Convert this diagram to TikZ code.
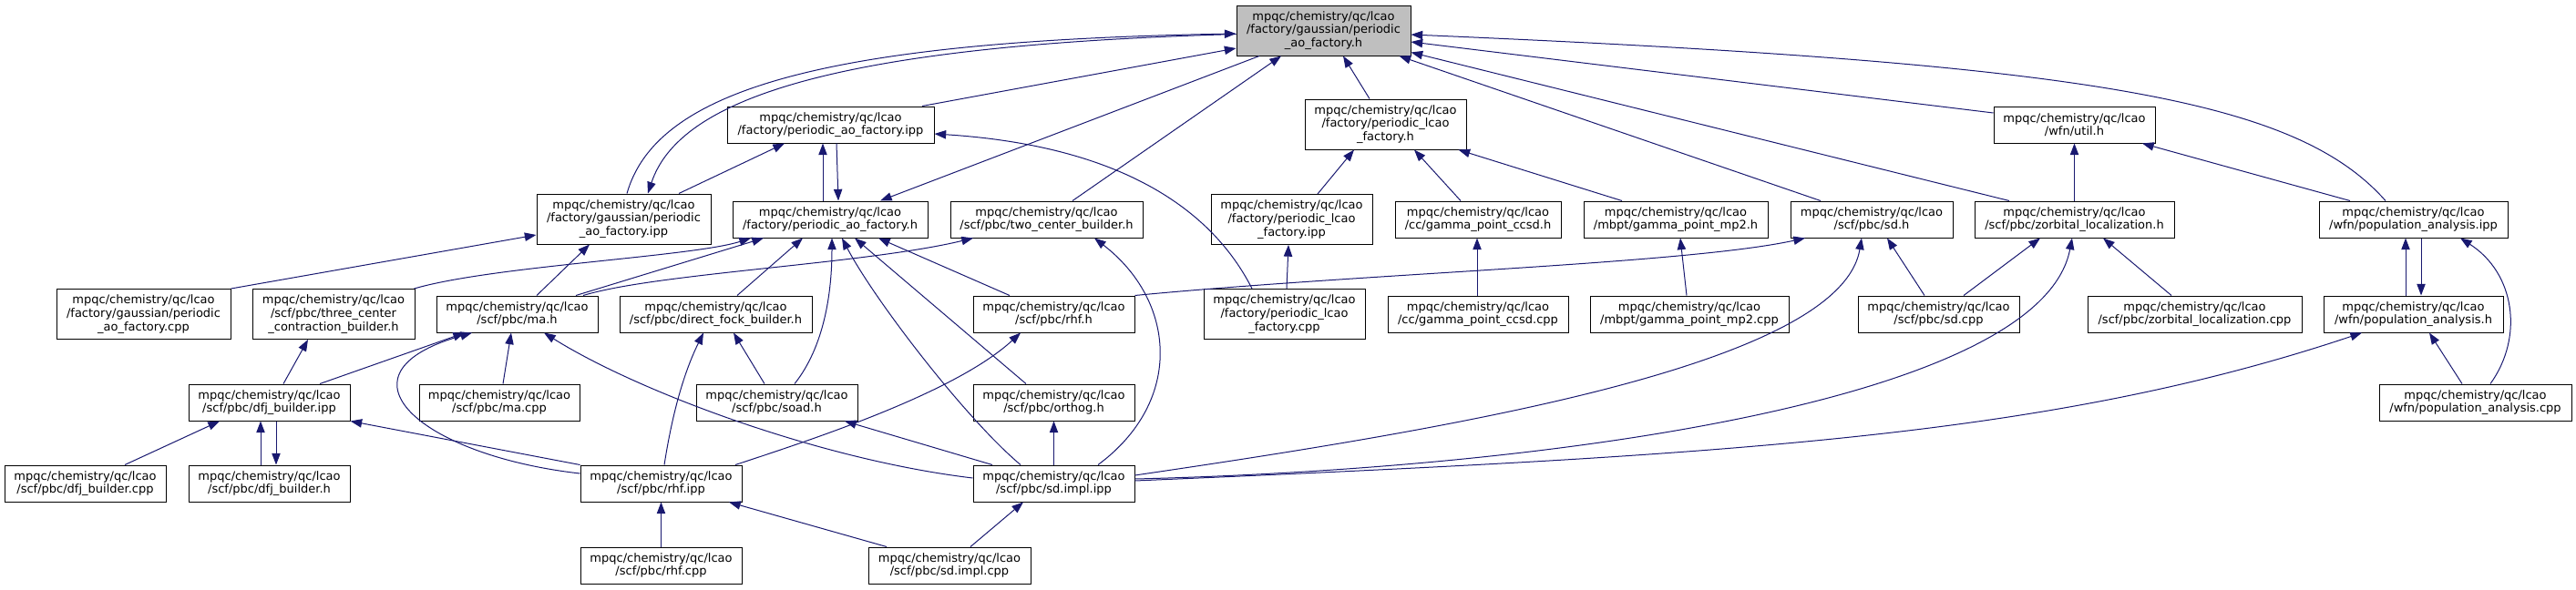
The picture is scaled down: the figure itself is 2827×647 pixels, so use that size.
\documentclass[tikz,border=0pt]{standalone}
\usepackage{fontspec}
\setmainfont{DejaVu Sans}
\usetikzlibrary{arrows.meta,calc}
\definecolor{edgeblue}{HTML}{191970}
\definecolor{rootgray}{HTML}{BFBFBF}
\tikzset{
  box/.style={draw=black, line width=0.75pt, fill=white, inner sep=0pt, align=center,
    font=\fontsize{9.75pt}{11pt}\selectfont},
  nd/.style n args={2}{minimum width=#1*0.75pt, minimum height=#2*0.75pt},
  edge/.style={draw=edgeblue, line width=0.75pt, -{Triangle[length=9.5pt,width=7pt]}}
}
\begin{document}
\begin{tikzpicture}[x=0.75pt,y=-0.75pt]
\useasboundingbox (0,0) rectangle (2827,647);
% rank 1
\node[box,nd={191}{55},fill=rootgray] (R) at (1452.5,33.5) {mpqc/chemistry/qc/lcao\\/factory/gaussian/periodic\\\_ao\_factory.h};
% rank 2
\node[box,nd={227}{40}] (PAI) at (911.5,137) {mpqc/chemistry/qc/lcao\\/factory/periodic\_ao\_factory.ipp};
\node[box,nd={177}{55}] (LH) at (1520.5,136.5) {mpqc/chemistry/qc/lcao\\/factory/periodic\_lcao\\\_factory.h};
\node[box,nd={177}{40}] (UH) at (2276.5,137) {mpqc/chemistry/qc/lcao\\/wfn/util.h};
% rank 3
\node[box,nd={191}{55}] (GI) at (684.5,240.5) {mpqc/chemistry/qc/lcao\\/factory/gaussian/periodic\\\_ao\_factory.ipp};
\node[box,nd={214}{40}] (PAF) at (911,241) {mpqc/chemistry/qc/lcao\\/factory/periodic\_ao\_factory.h};
\node[box,nd={211}{40}] (TCB) at (1148.5,241) {mpqc/chemistry/qc/lcao\\/scf/pbc/two\_center\_builder.h};
\node[box,nd={177}{55}] (LI) at (1417.5,241) {mpqc/chemistry/qc/lcao\\/factory/periodic\_lcao\\\_factory.ipp};
\node[box,nd={182}{40}] (CCSDh) at (1622,241) {mpqc/chemistry/qc/lcao\\/cc/gamma\_point\_ccsd.h};
\node[box,nd={202}{40}] (MP2h) at (1839,241) {mpqc/chemistry/qc/lcao\\/mbpt/gamma\_point\_mp2.h};
\node[box,nd={178}{40}] (SH) at (2054,241) {mpqc/chemistry/qc/lcao\\/scf/pbc/sd.h};
\node[box,nd={219}{40}] (ZH) at (2276.5,241) {mpqc/chemistry/qc/lcao\\/scf/pbc/zorbital\_localization.h};
\node[box,nd={207}{40}] (PI) at (2648.5,241) {mpqc/chemistry/qc/lcao\\/wfn/population\_analysis.ipp};
% rank 4
\node[box,nd={191}{55}] (GC) at (157.5,345) {mpqc/chemistry/qc/lcao\\/factory/gaussian/periodic\\\_ao\_factory.cpp};
\node[box,nd={178}{55}] (TC) at (366,345) {mpqc/chemistry/qc/lcao\\/scf/pbc/three\_center\\\_contraction\_builder.h};
\node[box,nd={177}{40}] (MA) at (567.5,345) {mpqc/chemistry/qc/lcao\\/scf/pbc/ma.h};
\node[box,nd={211}{40}] (DFB) at (785.5,345) {mpqc/chemistry/qc/lcao\\/scf/pbc/direct\_fock\_builder.h};
\node[box,nd={177}{40}] (RH) at (1156.5,345) {mpqc/chemistry/qc/lcao\\/scf/pbc/rhf.h};
\node[box,nd={177}{55}] (LC) at (1409.5,345) {mpqc/chemistry/qc/lcao\\/factory/periodic\_lcao\\\_factory.cpp};
\node[box,nd={198}{40}] (CCSDcpp) at (1622,345) {mpqc/chemistry/qc/lcao\\/cc/gamma\_point\_ccsd.cpp};
\node[box,nd={218}{40}] (MP2cpp) at (1854,345) {mpqc/chemistry/qc/lcao\\/mbpt/gamma\_point\_mp2.cpp};
\node[box,nd={177}{40}] (SD) at (2127.5,345) {mpqc/chemistry/qc/lcao\\/scf/pbc/sd.cpp};
\node[box,nd={235}{40}] (ZC) at (2408.5,345) {mpqc/chemistry/qc/lcao\\/scf/pbc/zorbital\_localization.cpp};
\node[box,nd={197}{40}] (PH) at (2648.5,345) {mpqc/chemistry/qc/lcao\\/wfn/population\_analysis.h};
% rank 5
\node[box,nd={177}{40}] (DI) at (295.5,442) {mpqc/chemistry/qc/lcao\\/scf/pbc/dfj\_builder.ipp};
\node[box,nd={176}{40}] (MC) at (548,442) {mpqc/chemistry/qc/lcao\\/scf/pbc/ma.cpp};
\node[box,nd={177}{40}] (SO) at (852.5,442) {mpqc/chemistry/qc/lcao\\/scf/pbc/soad.h};
\node[box,nd={177}{40}] (OR) at (1156.5,442) {mpqc/chemistry/qc/lcao\\/scf/pbc/orthog.h};
\node[box,nd={211}{40}] (PC) at (2716.5,442) {mpqc/chemistry/qc/lcao\\/wfn/population\_analysis.cpp};
% rank 6
\node[box,nd={177}{40}] (DC) at (93.5,531) {mpqc/chemistry/qc/lcao\\/scf/pbc/dfj\_builder.cpp};
\node[box,nd={177}{40}] (DH) at (295.5,531) {mpqc/chemistry/qc/lcao\\/scf/pbc/dfj\_builder.h};
\node[box,nd={177}{40}] (RI) at (725.5,531) {mpqc/chemistry/qc/lcao\\/scf/pbc/rhf.ipp};
\node[box,nd={177}{40}] (SI) at (1156.5,531) {mpqc/chemistry/qc/lcao\\/scf/pbc/sd.impl.ipp};
% rank 7
\node[box,nd={177}{40}] (RC) at (725.5,621) {mpqc/chemistry/qc/lcao\\/scf/pbc/rhf.cpp};
\node[box,nd={178}{40}] (SC) at (1042,621) {mpqc/chemistry/qc/lcao\\/scf/pbc/sd.impl.cpp};

% edges into root and upper part
\draw[edge] ($(GI.north)+(3.5,0)$) .. controls (720,100) and (900,45) .. ($(R.west)+(0,3.5)$);
\draw[edge] ($(R.west)+(0,4)$) .. controls (910,50) and (745,110) .. ($(GI.north)+(26.5,0)$);
\draw[edge] ($(PAI.north)+(100.5,0)$) -- ($(R.west)+(0,19.5)$);
\draw[edge] ($(R.south)+(-70.5,0)$) -- ($(PAF.north)+(55,0)$);
\draw[edge] ($(TCB.north)+(28.5,0)$) -- ($(R.south)+(-46.5,0)$);
\draw[edge] ($(LH.north)+(-17.5,0)$) -- ($(R.south)+(21.5,0)$);
\draw[edge] ($(SH.north)+(-56,0)$) -- ($(R.south)+(83,0)$);
\draw[edge] ($(ZH.north)+(-71.5,0)$) -- ($(R.east)+(0,24)$);
\draw[edge] ($(UH.west)+(0,-13)$) -- ($(R.east)+(0,12.5)$);
\draw[edge] ($(PI.north)+(-30.5,0)$) .. controls (2520,110) and (2300,70) .. ($(R.east)+(0,4.5)$);
\draw[edge] ($(GI.north)+(60.5,0)$) -- ($(PAI.south)+(-50.5,0)$);
\draw[edge] ($(PAF.north)+(-8,0)$) -- ($(PAI.south)+(-8.5,0)$);
\draw[edge] ($(PAI.south)+(6.5,0)$) -- ($(PAF.north)+(9,0)$);
\draw[edge] (GC.north east) -- ($(GI.west)+(0,17.5)$);
\draw[edge] ($(MA.north)+(21.5,0)$) -- ($(GI.south)+(-37.5,0)$);
\draw[edge] ($(TC.north east)+(-1,0)$) .. controls (540,292) and (760,282) .. ($(PAF.south)+(-87,0)$);
\draw[edge] ($(MA.north)+(64.5,0)$) -- ($(PAF.south)+(-73,0)$);
\draw[edge] ($(MA.north)+(72.5,0)$) .. controls (720,300) and (950,290) .. ($(TCB.south)+(-80.5,0)$);
\draw[edge] ($(DFB.north)+(23.5,0)$) -- ($(PAF.south)+(-30,0)$);
\draw[edge] ($(SO.north)+(19.5,0)$) .. controls (905,380) and (913,320) .. ($(PAF.south)+(2,0)$);
\draw[edge] ($(SI.north)+(-36.5,0)$) .. controls (1060,460) and (960,330) .. ($(PAF.south)+(13,0)$);
\draw[edge] ($(OR.north)+(-30.5,0)$) -- ($(PAF.south)+(27,0)$);
\draw[edge] ($(RH.north)+(-48.5,0)$) -- ($(PAF.south)+(53,0)$);
\draw[edge] ($(LC.north)+(-35.5,0)$) .. controls (1330,230) and (1230,160) .. ($(PAI.east)+(0,10)$);
\draw[edge] ($(LI.north)+(28.5,0)$) -- ($(LH.south)+(-34.5,0)$);
\draw[edge] ($(CCSDh.north)+(-19,0)$) -- ($(LH.south)+(31.5,0)$);
\draw[edge] ($(MP2h.north)+(-59,0)$) -- ($(LH.south)+(80,0)$);
\draw[edge] ($(LC.north)+(2.5,0)$) -- ($(LI.south)+(-3.5,0)$);
\draw[edge] ($(CCSDcpp.north)+(-1,0)$) -- ($(CCSDh.south)+(-1,0)$);
\draw[edge] ($(MP2cpp.north)+(-3,0)$) -- ($(MP2h.south)+(5,0)$);
% lower left
\draw[edge] ($(DI.north)+(15.5,0)$) -- ($(TC.south)+(-28,0)$);
\draw[edge] ($(DI.north)+(55.5,0)$) -- ($(MA.south)+(-57.5,0)$);
\draw[edge] ($(RI.west)+(0,-11)$) .. controls (460,500) and (360,410) .. ($(MA.south)+(-49.5,0)$);
\draw[edge] ($(MC.north)+(4,0)$) -- ($(MA.south)+(-6.5,0)$);
\draw[edge] ($(SI.west)+(0,-6)$) .. controls (900,505) and (700,430) .. ($(MA.south)+(29.5,0)$);
\draw[edge] ($(RI.north)+(3.5,0)$) .. controls (740,440) and (755,400) .. ($(DFB.south)+(-13.5,0)$);
\draw[edge] ($(SO.north)+(-13.5,0)$) -- ($(DFB.south)+(19.5,0)$);
\draw[edge] ($(SI.north)+(-67.5,0)$) -- ($(SO.south)+(74.5,0)$);
\draw[edge] ($(DC.north)+(43.5,0)$) -- ($(DI.south)+(-54.5,0)$);
\draw[edge] ($(DH.north)+(-9.5,0)$) -- ($(DI.south)+(-9.5,0)$);
\draw[edge] ($(DI.south)+(7.5,0)$) -- ($(DH.north)+(7.5,0)$);
\draw[edge] (RI.north west) -- (DI.south east);
\draw[edge] ($(RI.north)+(81.5,0)$) .. controls (900,480) and (1050,430) .. ($(RH.south)+(-36.5,0)$);
\draw[edge] (RC.north) -- (RI.south);
\draw[edge] ($(SC.north)+(-69,0)$) -- ($(RI.south)+(74.5,0)$);
% middle and right
\draw[edge] (RH.north east) .. controls (1500,300) and (1850,290) .. ($(SH.south)+(-73,0)$);
\draw[edge] (SI.north) -- (OR.south);
\draw[edge] ($(SI.north)+(48.5,0)$) .. controls (1300,440) and (1290,330) .. ($(TCB.south)+(52.5,0)$);
\draw[edge] ($(SI.east)+(0,-9)$) .. controls (1600,470) and (2020,400) .. ($(SH.south)+(-11,0)$);
\draw[edge] ($(SI.east)+(0,-5)$) .. controls (1700,515) and (2240,440) .. ($(ZH.south)+(-2.5,0)$);
\draw[edge] ($(SI.east)+(0,-3)$) .. controls (1900,500) and (2250,480) .. ($(PH.south)+(-56.5,0)$);
\draw[edge] ($(SC.north)+(23,0)$) -- ($(SI.south)+(-33.5,0)$);
\draw[edge] (ZH.north) -- (UH.south);
\draw[edge] ($(PI.north)+(-69.5,0)$) -- ($(UH.south)+(74.5,0)$);
\draw[edge] ($(SD.north)+(-15.5,0)$) -- ($(SH.south)+(17,0)$);
\draw[edge] ($(SD.north)+(27.5,0)$) -- ($(ZH.south)+(-37.5,0)$);
\draw[edge] ($(ZC.north)+(-25.5,0)$) -- ($(ZH.south)+(31.5,0)$);
\draw[edge] ($(PH.north)+(-8.5,0)$) -- ($(PI.south)+(-8.5,0)$);
\draw[edge] ($(PI.south)+(8.5,0)$) -- ($(PH.north)+(8.5,0)$);
\draw[edge] ($(PC.north)+(16.5,0)$) .. controls (2770,370) and (2760,300) .. ($(PI.south)+(51.5,0)$);
\draw[edge] ($(PC.north)+(-14.5,0)$) -- ($(PH.south)+(17.5,0)$);
\end{tikzpicture}
\end{document}
